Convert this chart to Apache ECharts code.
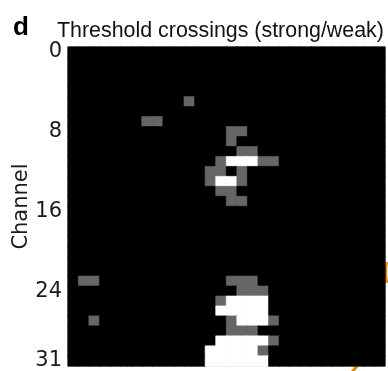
<!DOCTYPE html>
<html>
<head>
<meta charset="utf-8">
<script src="https://cdn.jsdelivr.net/npm/echarts@6/dist/echarts.min.js"></script>
<style>
html,body{margin:0;padding:0;background:#fff;}
#chart{width:388px;height:371px;}
</style>
</head>
<body>
<div id="chart"></div>
<script>
// Channels (rows, 0 at top) and time bins (columns)
const channels = Array.from({length: 32}, (_, i) => String(i));
const timeBins = Array.from({length: 30}, (_, i) => String(i));
const channelTicks = [0, 8, 16, 24, 31];

// Weak threshold crossings: [timeBin, channel]
const weakCells = [
  [11,5],
  [7,7],[8,7],
  [15,8],[16,8],
  [15,9],
  [16,10],[17,10],
  [14,11],[18,11],[19,11],
  [13,12],[14,12],[16,12],
  [13,13],[16,13],
  [14,14],[15,14],
  [15,15],[16,15],
  [1,23],[2,23],[15,23],[16,23],[17,23],
  [16,24],[17,24],[18,24],
  [14,25],
  [2,27],[15,27],[19,27],
  [15,28],[16,28],[17,28],
  [19,29],
  [18,30]
];

// Strong threshold crossings: [timeBin, channel]
const strongCells = [
  [15,11],[16,11],[17,11],
  [14,13],[15,13],
  [15,25],[16,25],[17,25],[18,25],
  [14,26],[15,26],[16,26],[17,26],[18,26],
  [16,27],[17,27],[18,27],
  [14,29],[15,29],[16,29],[17,29],[18,29],
  [13,30],[14,30],[15,30],[16,30],[17,30],
  [13,31],[14,31],[15,31],[16,31],[17,31],[18,31]
];

const levelColors = ['#000000', '#666666', '#ffffff'];

// Build the full matrix: 0 = none, 1 = weak, 2 = strong
const levels = {};
weakCells.forEach(([t, c]) => { levels[t + ',' + c] = 1; });
strongCells.forEach(([t, c]) => { levels[t + ',' + c] = 2; });
const data = [];
for (let c = 0; c < channels.length; c++) {
  for (let t = 0; t < timeBins.length; t++) {
    const v = levels[t + ',' + c] || 0;
    const col = levelColors[v];
    data.push({value: [t, c, v], itemStyle: {color: col, borderColor: col, borderWidth: 0.6}});
  }
}

const chart = echarts.init(document.getElementById('chart'), null, {renderer: 'canvas'});
chart.setOption({
  animation: false,
  backgroundColor: '#ffffff',
  grid: {left: 68, top: 47, width: 317, height: 319, show: true, outerBoundsMode: 'none',
         containLabel: false,
         backgroundColor: '#000', borderColor: '#b0b0b0', borderWidth: 1},
  graphic: [
    {type: 'text', left: 13, top: 15,
     style: {text: 'd', font: 'bold 26px "Liberation Sans", Arial, sans-serif', fill: '#000'}},
    {type: 'text', left: 57, top: 21,
     style: {text: 'Threshold crossings (strong/weak)', font: '21.4px "Liberation Sans", Arial, sans-serif', fill: '#111'}},
    {type: 'polyline', silent: true,
     shape: {points: [[387, 262], [386, 268], [386, 276], [387, 283]]},
     style: {stroke: '#e08a00', lineWidth: 2.5, fill: null}},
    {type: 'polyline', silent: true,
     shape: {points: [[352, 372], [357, 366]]},
     style: {stroke: '#e08a00', lineWidth: 3, fill: null}}
  ],
  xAxis: {
    type: 'category', data: timeBins, show: false
  },
  yAxis: {
    type: 'category', data: channels, inverse: true,
    name: 'Channel', nameLocation: 'middle', nameGap: 36, nameMoveOverlap: false,
    nameTextStyle: {fontFamily: 'DejaVu Sans', fontSize: 21, color: '#1a1a1a'},
    axisLine: {show: false}, axisTick: {show: false}, splitLine: {show: false},
    axisLabel: {
      interval: (idx) => channelTicks.includes(idx),
      fontFamily: 'DejaVu Sans', fontSize: 21, color: '#1a1a1a', margin: 6
    }
  },
  series: [{
    type: 'heatmap', data: data,
    emphasis: {disabled: true}
  }]
});
</script>
</body>
</html>
